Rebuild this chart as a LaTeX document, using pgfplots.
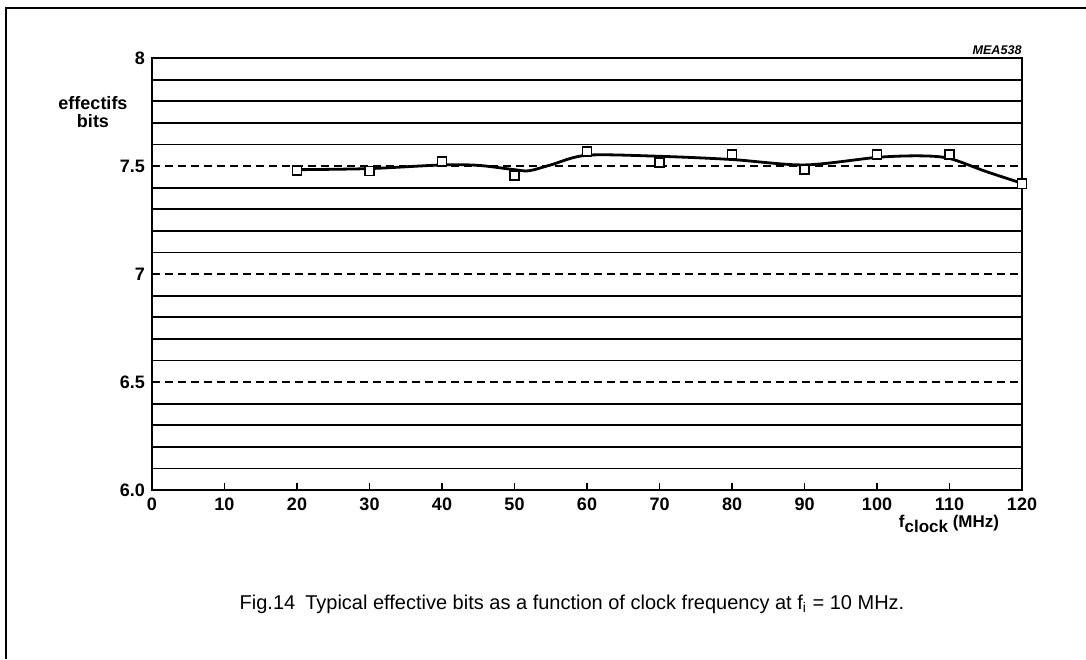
\documentclass[border=0pt]{standalone}
\usepackage{pgfplots}
\pgfplotsset{compat=1.18}
\usepackage{fontspec}
\setmainfont{Liberation Sans}

\begin{document}
\begin{tikzpicture}
\begin{scope}[x=0.5pt,y=-0.5pt]
  \path[use as bounding box] (0,0) rectangle (1086,659);
  \draw[line width=1.1pt] (6,659) -- (6,8) -- (1086,8);
  \coordinate (A) at (152,490);
  \node[font=\bfseries\fontsize{9}{7.5}\selectfont, align=center] at (93,112) {effectifs\\[1.5pt]bits};
  \node[font=\bfseries\fontsize{8.5}{9}\selectfont] at (949,524) {f\raisebox{-2.8pt}{clock} (MHz)};
  \node[font=\bfseries\itshape\fontsize{6.3}{7}\selectfont, anchor=east, inner sep=0pt] at (1022,50) {MEA538};
  \node[font=\fontsize{10}{12}\selectfont] at (572,604)
    {Fig.14\hspace{0.5em}Typical effective bits as a function of clock frequency at f\textsubscript{i} = 10 MHz.};
\end{scope}
\begin{axis}[
  at={(A)}, anchor=south west,
  scale only axis, width=435pt, height=216pt,
  xmin=0, xmax=120, ymin=6, ymax=8,
  axis line style={line width=1pt},
  xtick={0,10,...,120},
  xtick pos=bottom, tick align=inside,
  major tick length=3.5pt,
  ytick={6,6.5,7,7.5,8},
  yticklabels={6.0,6.5,7,7.5,8},
  ytick style={draw=none},
  minor ytick={6.1,6.2,6.3,6.4,6.6,6.7,6.8,6.9,7.1,7.2,7.3,7.4,7.6,7.7,7.8,7.9},
  minor tick length=0pt,
  ymajorgrids, yminorgrids,
  major grid style={line width=0.9pt, dash pattern=on 4pt off 2.5pt, black},
  minor grid style={line width=0.9pt, solid, black},
  tick style={line width=0.8pt, black},
  ticklabel style={font=\bfseries\fontsize{9}{10}\selectfont},
  /pgf/number format/assume math mode=true,
  xticklabel style={yshift=-0.5pt},
]
\addplot[line width=1.4pt, smooth, tension=0.5] coordinates {
  (20,7.483) (30,7.488) (40,7.505) (45,7.503) (50,7.483) (52,7.478) (55,7.505)
  (60,7.55) (70,7.545) (80,7.53) (90,7.505) (100,7.54) (106,7.547) (110,7.535)
  (115,7.475) (120,7.42)};
\addplot[only marks, mark=square*, mark size=2.3pt,
  mark options={line width=0.8pt, fill=white, draw=black}] coordinates {
  (20,7.48) (30,7.477) (40,7.52) (50,7.456) (60,7.567) (70,7.517)
  (80,7.554) (90,7.483) (100,7.553) (110,7.553) (120,7.418)};
\end{axis}
\end{tikzpicture}
\end{document}
